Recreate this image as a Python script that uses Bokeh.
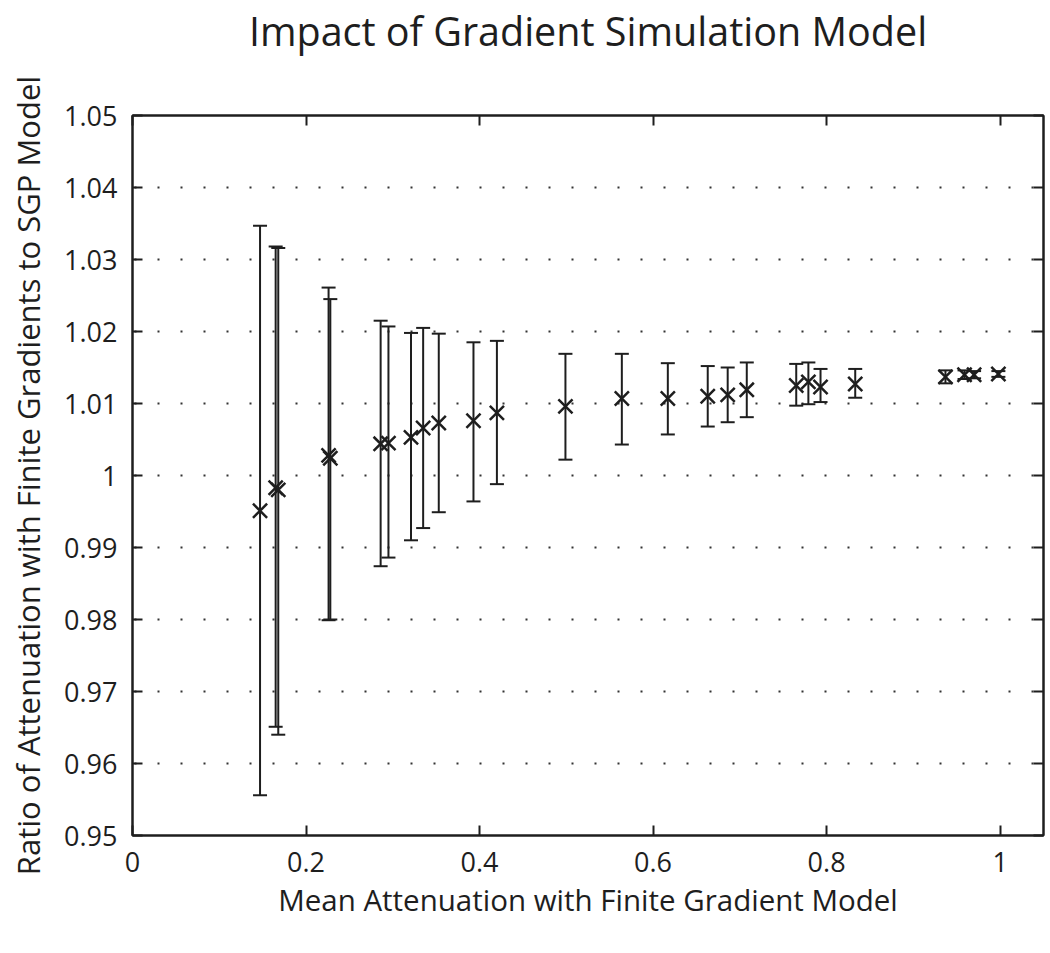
from bokeh.plotting import figure
from bokeh.models import (ColumnDataSource, Whisker, TeeHead, LinearAxis, FixedTicker,
                          Range1d, CustomJSTickFormatter, Grid)
from bokeh.embed import file_html
from bokeh.resources import INLINE

# ---- data ----
mean_atten = [0.147, 0.165, 0.168, 0.226, 0.228, 0.286, 0.295, 0.321, 0.335, 0.353,
              0.393, 0.420, 0.499, 0.564, 0.617, 0.663, 0.686, 0.708, 0.765, 0.779,
              0.793, 0.833, 0.937, 0.959, 0.970, 0.998]
ratio = [0.9951, 0.9983, 0.9980, 1.0028, 1.0024, 1.0044, 1.0045, 1.0053, 1.0066, 1.0073,
         1.0076, 1.0087, 1.0096, 1.0107, 1.0107, 1.0110, 1.0112, 1.0119, 1.0125, 1.0130,
         1.0123, 1.0127, 1.0137, 1.0140, 1.0140, 1.0141]
ratio_low = [0.9556, 0.9651, 0.9640, 0.9799, 0.9800, 0.9874, 0.9886, 0.9910, 0.9927, 0.9949,
             0.9964, 0.9988, 1.0022, 1.0043, 1.0057, 1.0068, 1.0074, 1.0081, 1.0097, 1.0099,
             1.0102, 1.0108, 1.0128, 1.0134, 1.0135, 1.0137]
ratio_high = [1.0347, 1.0318, 1.0316, 1.0261, 1.0245, 1.0215, 1.0207, 1.0198, 1.0205, 1.0197,
              1.0185, 1.0187, 1.0169, 1.0169, 1.0156, 1.0152, 1.0150, 1.0157, 1.0155, 1.0157,
              1.0148, 1.0148, 1.0146, 1.0146, 1.0145, 1.0145]

x_ticks = [0, 0.2, 0.4, 0.6, 0.8, 1.0]
y_ticks = [0.95, 0.96, 0.97, 0.98, 0.99, 1.0, 1.01, 1.02, 1.03, 1.04, 1.05]
y_tick_labels = ["0.95", "0.96", "0.97", "0.98", "0.99", "1", "1.01", "1.02", "1.03", "1.04", "1.05"]
x_tick_labels = ["0", "0.2", "0.4", "0.6", "0.8", "1"]

INK = "#1e1e1e"
FONT = "Open Sans"

src = ColumnDataSource(dict(x=mean_atten, y=ratio, lo=ratio_low, hi=ratio_high))

p = figure(width=1045, height=950, output_backend="svg", toolbar_location=None,
           title=None,
           x_range=Range1d(0, 1.05), y_range=Range1d(0.95, 1.05),
           x_axis_type=None, y_axis_type=None,
           min_border_left=132, min_border_right=2, min_border_top=115, min_border_bottom=115)

def style_axis(ax, show_labels):
    ax.axis_line_color = INK
    ax.axis_line_width = 2
    ax.major_tick_line_color = INK
    ax.major_tick_line_width = 2
    ax.major_tick_in = 10
    ax.major_tick_out = 0
    ax.minor_tick_line_color = None
    ax.major_label_text_font = FONT
    ax.major_label_text_font_size = "27px"
    ax.major_label_text_color = INK
    ax.axis_label_text_font = FONT
    ax.axis_label_text_font_style = "normal"
    ax.axis_label_text_color = INK
    if not show_labels:
        ax.major_label_text_font_size = "0px"

xb = LinearAxis(ticker=FixedTicker(ticks=x_ticks),
                major_label_overrides={t: s for t, s in zip(x_ticks, x_tick_labels)},
                axis_label="Mean Attenuation with Finite Gradient Model")
style_axis(xb, True)
xb.axis_label_text_font_size = "29.5px"
xb.major_label_standoff = 16
xb.axis_label_standoff = 4
p.add_layout(xb, "below")

yl = LinearAxis(ticker=FixedTicker(ticks=y_ticks),
                major_label_overrides={t: s for t, s in zip(y_ticks, y_tick_labels)},
                axis_label="Ratio of Attenuation with Finite Gradients to SGP Model")
style_axis(yl, True)
yl.axis_label_text_font_size = "31px"
yl.major_label_standoff = 15
yl.axis_label_standoff = 12
p.add_layout(yl, "left")

# top box axis; its axis label carries the chart title
xt = LinearAxis(ticker=FixedTicker(ticks=x_ticks),
                formatter=CustomJSTickFormatter(code="return ''"),
                axis_label="Impact of Gradient Simulation Model")
style_axis(xt, False)
xt.axis_label_text_font_size = "39.5px"
xt.axis_label_standoff = 58
p.add_layout(xt, "above")

yr = LinearAxis(ticker=FixedTicker(ticks=y_ticks),
                formatter=CustomJSTickFormatter(code="return ''"))
style_axis(yr, False)
p.add_layout(yr, "right")

grid = Grid(dimension=1, ticker=FixedTicker(ticks=y_ticks),
            grid_line_color="#333333", grid_line_width=2,
            grid_line_dash="2 21", grid_line_dash_offset=-2)
p.add_layout(grid)

p.outline_line_color = INK
p.outline_line_width = 2
p.background_fill_color = "white"
p.border_fill_color = "white"

w = Whisker(source=src, base="x", lower="lo", upper="hi", dimension="height",
            line_color=INK, line_width=2,
            lower_head=TeeHead(size=14, line_color=INK, line_width=2),
            upper_head=TeeHead(size=14, line_color=INK, line_width=2))
p.add_layout(w)

p.scatter("x", "y", source=src, marker="x", size=20, line_color=INK, line_width=2.5)

open("out.html", "w").write(file_html(p, INLINE))
